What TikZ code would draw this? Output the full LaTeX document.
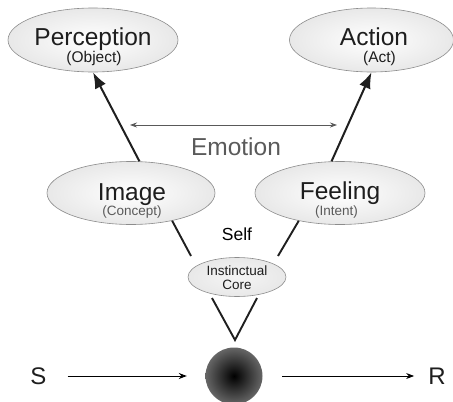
\documentclass[tikz,border=0pt]{standalone}
\usepackage{fontspec}
\setmainfont{Liberation Sans}
\usetikzlibrary{arrows.meta,shapes.geometric}
\definecolor{txt}{HTML}{1E1E1E}
\definecolor{gtxt}{HTML}{5A5A5A}
\tikzset{
  bub/.style={ellipse, draw=black!45, line width=0.6pt, inner sep=0pt,
    inner color=white, outer color=black!9},
  big/.style={anchor=base, inner sep=0pt, text=txt, font=\fontsize{24.5}{26}\selectfont},
  sub/.style={anchor=base, inner sep=0pt, text=txt, font=\fontsize{15.5}{17}\selectfont},
  small/.style={anchor=base, inner sep=0pt, text=gtxt, font=\fontsize{13.5}{15}\selectfont},
  core/.style={anchor=base, inner sep=0pt, text=txt, font=\fontsize{13.5}{15}\selectfont},
  bigarrow/.style={line width=2pt, black!88, -{Latex[length=16pt,width=12pt]}},
  stem/.style={line width=1.9pt, black!88},
  emo/.style={line width=0.8pt, black!65, {Stealth[length=7pt,width=5pt]}-{Stealth[length=7pt,width=5pt]}},
  srarrow/.style={line width=0.9pt, black, -{Stealth[length=8pt,width=6pt]}},
}
\begin{document}
\begin{tikzpicture}[x=1pt,y=-1pt]
\fill[white] (0,0) rectangle (453,402);
\useasboundingbox (0,0) rectangle (453,402);

% ellipses
\node[bub, minimum width=170pt, minimum height=64pt] (per) at (93,40) {};
\node[bub, minimum width=164pt, minimum height=64pt] (act) at (371.5,40) {};
\node[bub, minimum width=168pt, minimum height=63pt] (img) at (131,193) {};
\node[bub, minimum width=170pt, minimum height=63pt] (feel) at (340,193) {};
\node[ellipse, draw=black!45, line width=0.6pt, inner sep=0pt, inner color=black!4, outer color=black!9,
      minimum width=98pt, minimum height=39pt] (core) at (237,277) {};

% texts
\node[big] (pert) at (93,45.5) {Perception};
\node[sub] (pers) at (94,62.5) {(Object)};
\node[big] (actt) at (374,45.5) {Action};
\node[sub] (acts) at (379.5,62.5) {(Act)};
\node[big] (imgt) at (132,200) {Image};
\node[small] (imgs) at (132,215) {(Concept)};
\node[big] (feelt) at (340,199.5) {Feeling};
\node[small] (feels) at (336.5,215) {(Intent)};
\node[big, text=gtxt] (emot) at (236,155) {Emotion};
\node[anchor=base, inner sep=0pt, text=black, font=\fontsize{17.5}{19}\selectfont] (self) at (237,240) {Self};
\node[core] (coret1) at (237,275) {Instinctual};
\node[core] (coret2) at (237,289) {Core};

% ball and S/R
\node[circle, inner sep=0pt, minimum size=57pt, inner color=black, outer color=black!60] (ball) at (234,376) {};
\node[inner sep=0pt, font=\fontsize{24}{26}\selectfont, text=txt] (S) at (38.5,376) {S};
\node[inner sep=0pt, font=\fontsize{24}{26}\selectfont, text=txt] (R) at (437,376) {R};

% connectors
\draw[bigarrow] (img.75) -- (per.south);
\draw[bigarrow] (feel.105) -- (act.south);
\coordinate (e1) at (130,125);
\coordinate (e2) at (337,125);
\draw[emo] (e1) -- (e2);

\coordinate (lL) at (191,256);
\coordinate (lR) at (278,256);
\draw[stem] (img.-34) -- (lL);
\draw[stem] (feel.-146) -- (lR);

\coordinate (vL) at (212,298);
\coordinate (vR) at (257,298);
\coordinate (vB) at (235,340);
\draw[stem, line join=miter] (vL) -- (vB) -- (vR);

\draw[srarrow, shorten <=21pt, shorten >=18.5pt] (S) -- (ball);
\draw[srarrow, shorten <=19.5pt, shorten >=14pt] (ball) -- (R);
\end{tikzpicture}
\end{document}
